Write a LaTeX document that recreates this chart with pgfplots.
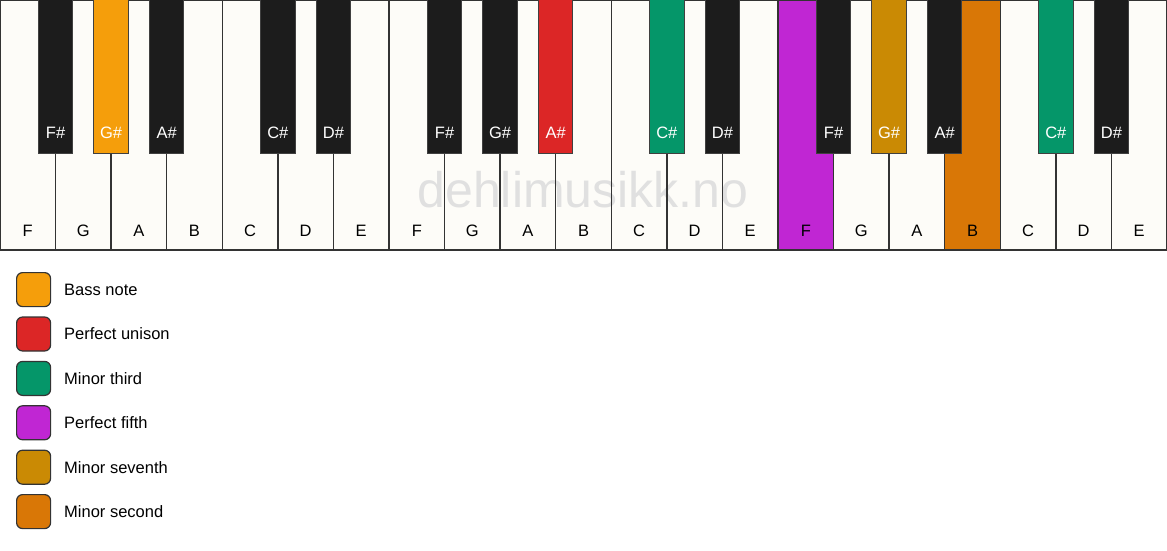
\documentclass[border=0pt]{standalone}
\usepackage{fontspec}
\setmainfont{Liberation Sans}
\usepackage{pgfplots}
\usepackage{pgfplotstable}
\pgfplotsset{compat=1.18}

\definecolor{ivory}{HTML}{FDFCF8}
\definecolor{keyblack}{HTML}{1C1C1C}
\definecolor{keyline}{HTML}{333333}
\definecolor{wmark}{HTML}{E0E0E0}
\definecolor{bass}{HTML}{F59E0B}
\definecolor{unison}{HTML}{DC2626}
\definecolor{third}{HTML}{059669}
\definecolor{fifth}{HTML}{C026D3}
\definecolor{seventh}{HTML}{CA8A04}
\definecolor{second}{HTML}{D97706}

% white keys: centre in key units, name
\pgfplotstableread{
x lab
0.5 F
1.5 G
2.5 A
3.5 B
4.5 C
5.5 D
6.5 E
7.5 F
8.5 G
9.5 A
10.5 B
11.5 C
12.5 D
13.5 E
14.5 F
15.5 G
16.5 A
17.5 B
18.5 C
19.5 D
20.5 E
}\whitekeys

% black keys (sharp sign added when printed)
\pgfplotstableread{
x lab
1 F
2 G
3 A
5 C
6 D
8 F
9 G
10 A
12 C
13 D
15 F
16 G
17 A
19 C
20 D
}\blackkeys

\pgfplotsset{
  whitekey/.style={ybar, bar shift=0pt, bar width=1, forget plot,
    draw=keyline, line width=1.5pt},
  blackkey/.style={ybar, bar shift=0pt, bar width=0.62, forget plot,
    draw=black!75, line width=1pt, on layer=main},
  keylabel/.style={draw=none, mark=none, forget plot, nodes near coords,
    point meta=explicit symbolic, on layer=axis foreground},
  legsq/.style={legend image code/.code={
    \draw[rounded corners=6pt, fill=#1, draw=black!80, line width=1.2pt]
      (0pt,-17pt) rectangle (34pt,17pt);}},
}

\begin{document}
\begin{tikzpicture}
\begin{axis}[
  set layers,
  width=1167pt, height=550pt, scale only axis,
  xmin=0, xmax=21, ymin=0, ymax=550, y dir=reverse,
  hide axis, clip=false,
  font=\fontsize{16.5}{19}\selectfont,
  legend style={at={(axis cs:0.288,272)}, anchor=north west,
    draw=none, fill=none, inner sep=0pt, outer sep=0pt,
    row sep=9.2pt, column sep=13pt,
    nodes={inner sep=0pt, text depth=0pt},
    font=\fontsize{16.5}{19}\selectfont},
  legend cell align=left,
]
% white keys: fills, then the watermark, then outlines on top
\addplot[whitekey, draw=none, fill=ivory, on layer=axis background] table[x=x, y expr=250] {\whitekeys};
\addplot[whitekey, draw=none, fill=fifth, on layer=axis background] coordinates {(14.5,250)};
\addplot[whitekey, draw=none, fill=second, on layer=axis background] coordinates {(17.5,250)};
\begin{pgfonlayer}{axis grid}
\node[anchor=base, text=wmark, font=\fontsize{50}{54}\selectfont]
  at (axis cs:10.49,207) {dehlimusikk.no};
\end{pgfonlayer}
\addplot[whitekey, fill=none, on layer=pre main] table[x=x, y expr=250] {\whitekeys};
% black keys
\addplot[blackkey, fill=keyblack] table[x=x, y expr=153] {\blackkeys};
\addplot[blackkey, fill=bass] coordinates {(2,153)};
\addplot[blackkey, fill=unison] coordinates {(10,153)};
\addplot[blackkey, fill=third] coordinates {(12,153) (19,153)};
\addplot[blackkey, fill=seventh] coordinates {(16,153)};
% key names
\addplot[keylabel, every node near coord/.append style={anchor=base, text=black}]
  table[x=x, y expr=236, meta=lab] {\whitekeys};
\addplot[keylabel, nodes near coords={\pgfplotspointmeta\#},
  every node near coord/.append style={anchor=base, text=white}]
  table[x=x, y expr=138.5, meta=lab] {\blackkeys};
% legend
\addlegendimage{legsq=bass}\addlegendentry{Bass note}
\addlegendimage{legsq=unison}\addlegendentry{Perfect unison}
\addlegendimage{legsq=third}\addlegendentry{Minor third}
\addlegendimage{legsq=fifth}\addlegendentry{Perfect fifth}
\addlegendimage{legsq=seventh}\addlegendentry{Minor seventh}
\addlegendimage{legsq=second}\addlegendentry{Minor second}
\end{axis}
\pgfresetboundingbox
\useasboundingbox (current axis.south west) rectangle (current axis.north east);
\end{tikzpicture}
\end{document}
